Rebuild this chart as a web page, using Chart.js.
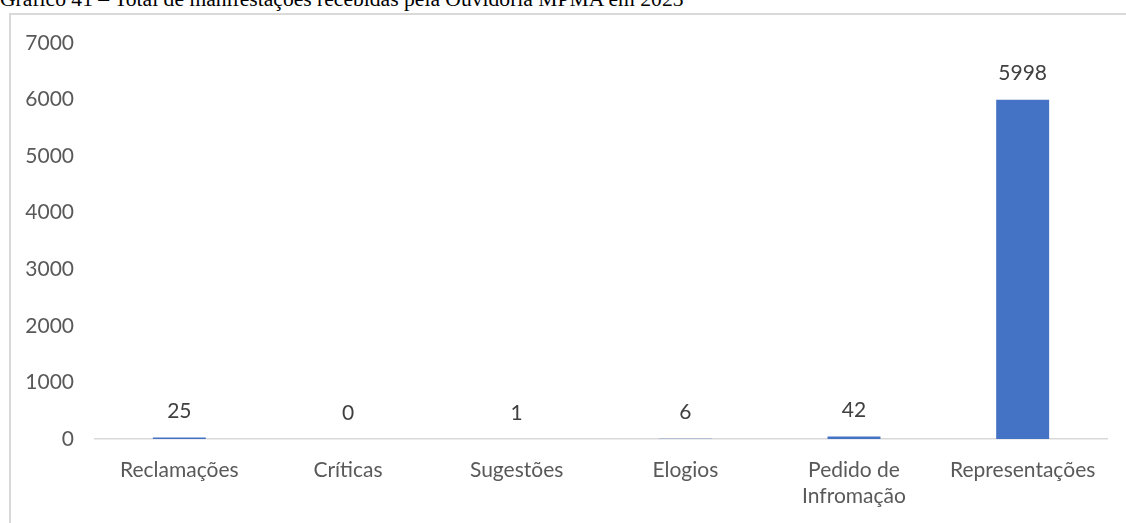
<!DOCTYPE html>
<html>
<head>
<meta charset="utf-8">
<script src="https://cdn.jsdelivr.net/npm/chart.js@4.4.0/dist/chart.umd.min.js"></script>
<style>
html,body{margin:0;padding:0;background:#fff;overflow:hidden;}
#title{position:absolute;left:0;top:-11px;font-family:"Liberation Serif","Times New Roman",serif;font-size:21.6px;line-height:21px;color:#000;white-space:nowrap;}
#box{position:absolute;left:9px;top:13px;width:1200px;height:600px;border-left:2px solid #d9d9d9;border-top:2px solid #d9d9d9;}
#wrap{position:absolute;left:0;top:0;width:1126px;height:523px;}
</style>
</head>
<body>
<div id="title">Gráfico 41 – Total de manifestações recebidas pela Ouvidoria MPMA em 2023</div>
<div id="box"></div>
<div id="wrap"><canvas id="c"></canvas></div>
<script>
const categories = ["Reclamações", "Críticas", "Sugestões", "Elogios", ["Pedido de", "Infromação"], "Representações"];
const values = [25, 0, 1, 6, 42, 5998];
const yTicks = [0, 1000, 2000, 3000, 4000, 5000, 6000, 7000];

const FONT = "Lato, 'Open Sans', sans-serif";
const FS = 21;

const valueLabels = {
  id: 'valueLabels',
  afterDatasetsDraw(chart) {
    const ctx = chart.ctx;
    const meta = chart.getDatasetMeta(0);
    ctx.save();
    ctx.font = FS + "px " + FONT;
    ctx.fillStyle = "#404040";
    ctx.textAlign = "center";
    ctx.textBaseline = "middle";
    meta.data.forEach((bar, i) => {
      ctx.fillText(String(values[i]), bar.x, bar.y - 26);
    });
    ctx.restore();
  }
};

new Chart(document.getElementById('c'), {
  type: 'bar',
  data: {
    labels: categories,
    datasets: [{
      data: values,
      backgroundColor: '#4472C4',
      borderWidth: 0,
      categoryPercentage: 1,
      barPercentage: 0.314
    }]
  },
  options: {
    responsive: true,
    maintainAspectRatio: false,
    animation: false,
    layout: { padding: { left: 0, right: 19, top: 43, bottom: 0 } },
    plugins: { legend: { display: false }, tooltip: { enabled: false } },
    scales: {
      x: {
        grid: { display: false, drawTicks: false },
        border: { display: true, color: '#d9d9d9', width: 1.5 },
        ticks: { color: '#595959', font: { family: FONT, size: FS, lineHeight: 1.2 }, padding: 19, maxRotation: 0, autoSkip: false },
        afterFit(s) { s.height = 84; }
      },
      y: {
        min: 0, max: 7000,
        afterBuildTicks(s) { s.ticks = yTicks.map(v => ({ value: v })); },
        grid: { display: false, drawTicks: false },
        border: { display: false },
        ticks: { color: '#595959', font: { family: FONT, size: FS }, padding: 21, callback: v => String(v) },
        afterFit(s) { s.width = 95; }
      }
    }
  },
  plugins: [valueLabels]
});
</script>
</body>
</html>
